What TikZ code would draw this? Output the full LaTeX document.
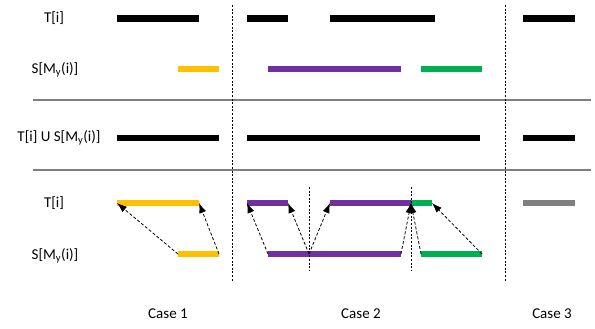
\documentclass[tikz,border=0pt]{standalone}
\usepackage{fontspec}
\setmainfont{Carlito}
\usetikzlibrary{arrows.meta}
\definecolor{barYellow}{HTML}{FFC000}
\definecolor{barPurple}{HTML}{7030A0}
\definecolor{barGreen}{HTML}{00B050}
\definecolor{barGray}{HTML}{808080}
\definecolor{ruleGray}{HTML}{7F7F7F}
\begin{document}
\begin{tikzpicture}[x=1pt,y=-1pt,
  bar/.style={line width=6.5pt,line cap=butt},
  lbl/.style={font=\fontsize{15}{18}\selectfont,inner sep=0pt},
  sep/.style={ruleGray,line width=1.2pt},
  divider/.style={line width=1pt,dash pattern=on 2pt off 1.6pt},
  mapto/.style={line width=0.8pt,dash pattern=on 3pt off 2pt,
    -{Latex[length=10pt,width=7pt]}}]
\useasboundingbox (0,0) rectangle (595,329);

% row labels
\node[lbl] (lT1) at (54,18) {T[i]};
\node[lbl] (lS1) at (55,70) {S[M\textsubscript{y}(i)]};
\node[lbl] (lU)  at (59,138) {T[i] U S[M\textsubscript{y}(i)]};
\node[lbl] (lT2) at (54,203) {T[i]};
\node[lbl] (lS2) at (55,256) {S[M\textsubscript{y}(i)]};

% case labels
\node[lbl] (c1) at (168,314) {Case 1};
\node[lbl] (c2) at (361,314) {Case 2};
\node[lbl] (c3) at (552,314) {Case 3};

% separators and case dividers
\draw[sep] (33,100) -- (591,100);
\draw[sep] (33,170) -- (591,170);
\draw[divider] (232,5) -- (232,281);
\draw[divider] (505,5) -- (505,281);

% row 1: T[i]
\draw[bar,black] (117,18.5) -- (199,18.5);
\draw[bar,black] (247,18.5) -- (288,18.5);
\draw[bar,black] (330,18.5) -- (435,18.5);
\draw[bar,black] (523,18.5) -- (575,18.5);

% row 2: S[My(i)]
\draw[bar,barYellow] (178,69) -- (219,69);
\draw[bar,barPurple] (268,69) -- (401,69);
\draw[bar,barGreen] (421,69) -- (482,69);

% row 3: union
\draw[bar,black] (117,138) -- (219,138);
\draw[bar,black] (247,138) -- (480,138);
\draw[bar,black] (523,138) -- (575,138);

% row 4: T[i] coloured by source
\coordinate (tY1) at (117,203);
\coordinate (tY2) at (199,203);
\coordinate (tP1) at (247,203);
\coordinate (tP2) at (288,203);
\coordinate (tP3) at (330,203);
\coordinate (tP4) at (411,203);
\coordinate (tG2) at (432,203);
\draw[bar,barYellow] (tY1) -- (tY2);
\draw[bar,barPurple] (tP1) -- (tP2);
\draw[bar,barPurple] (tP3) -- (tP4);
\draw[bar,barGreen] (tP4) -- (tG2);
\draw[bar,barGray] (523,203) -- (575,203);

% row 5: S[My(i)]
\coordinate (sY1) at (178,254);
\coordinate (sY2) at (219,254);
\coordinate (sP1) at (268,254);
\coordinate (sPm) at (309,254);
\coordinate (sP2) at (401,254);
\coordinate (sG1) at (421,254);
\coordinate (sG2) at (482,254);
\draw[bar,barYellow] (sY1) -- (sY2);
\draw[bar,barPurple] (sP1) -- (sP2);
\draw[bar,barGreen] (sG1) -- (sG2);

% split markers inside case 2
\draw[divider] (309,187) -- (309,271);
\draw[divider] (411,187) -- (411,271);

% mapping arrows
\draw[mapto] (sY1) -- (tY1);
\draw[mapto] (sY2) -- (tY2);
\draw[mapto] (sP1) -- (tP1);
\draw[mapto] (sPm) -- (tP2);
\draw[mapto] (sPm) -- (tP3);
\draw[mapto] (sP2) -- (tP4);
\draw[mapto] (sG1) -- (tP4);
\draw[mapto] (sG2) -- (tG2);
\end{tikzpicture}
\end{document}
